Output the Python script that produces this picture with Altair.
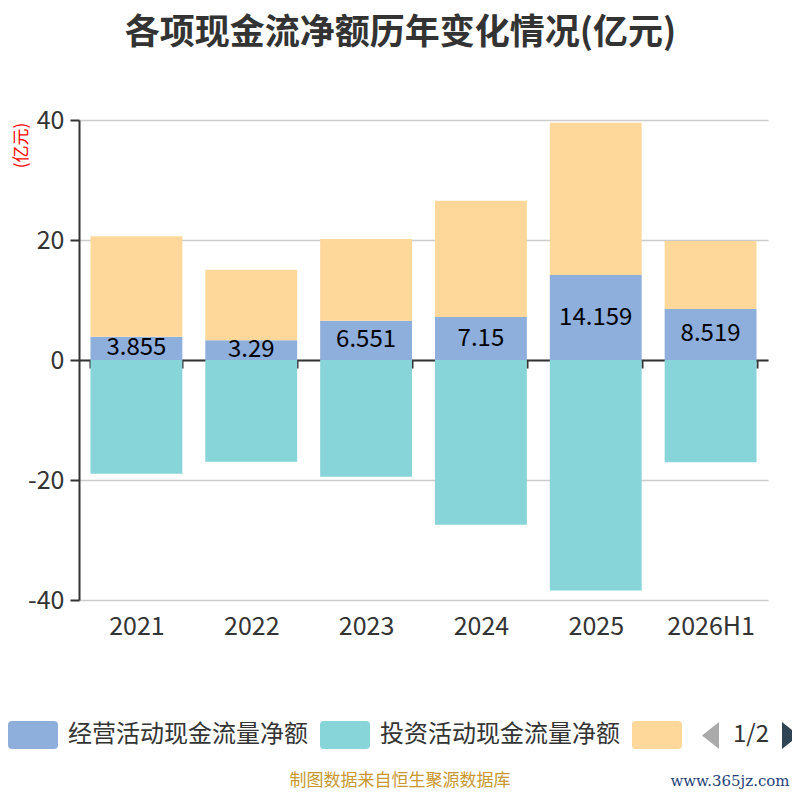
import altair as alt
import pandas as pd

# ---------------- data ----------------
years = ["2021", "2022", "2023", "2024", "2025", "2026H1"]
operating = [3.855, 3.29, 6.551, 7.15, 14.159, 8.519]
investing = [-18.95, -16.94, -19.44, -27.44, -38.4, -17.05]
financing = [16.75, 11.76, 13.6, 19.4, 25.4, 11.3]
series_names = ["经营活动现金流量净额", "投资活动现金流量净额", "筹资活动现金流量净额"]
series_colors = ["#8eaedb", "#88d5d9", "#fed89a"]
y_ticks = [-40, -20, 0, 20, 40]
y_domain = [-40, 40]

title_text = "各项现金流净额历年变化情况(亿元)"
unit_text = "(亿元)"
footer_text = "制图数据来自恒生聚源数据库"
watermark_text = "www.365jz.com"
pager_text = "1/2"

# ---------------- tables ----------------
rows = []
for i, yr in enumerate(years):
    rows.append({"year": yr, "series": series_names[0], "y0": 0, "y1": operating[i]})
    rows.append({"year": yr, "series": series_names[1], "y0": investing[i], "y1": 0})
    rows.append({"year": yr, "series": series_names[2], "y0": operating[i],
                 "y1": operating[i] + financing[i]})
bars_df = pd.DataFrame(rows)
labels_df = pd.DataFrame({"year": years, "label": [str(v) for v in operating],
                          "mid": [v / 2 for v in operating]})

FONT = "Noto Sans CJK SC"
W, H = 689, 480
zero_offset = -H * (0 - y_domain[0]) / (y_domain[1] - y_domain[0])

x_enc = alt.X(
    "year:N", sort=years, title=None,
    scale=alt.Scale(paddingInner=0.2, paddingOuter=0.1),
    axis=alt.Axis(orient="bottom", offset=zero_offset, domainColor="#333333", domainWidth=2,
                  tickBand="extent", tickColor="#333333", tickWidth=2, tickSize=8,
                  labelPadding=246, labelFontSize=25, labelColor="#333333", labelFont=FONT,
                  labelAngle=0, grid=False),
)
y_enc = alt.Y(
    "y1:Q", title=unit_text,
    scale=alt.Scale(domain=y_domain, nice=False, zero=False),
    axis=alt.Axis(values=y_ticks, labelExpr="'' + datum.value",
                  titleColor="red", titleFontSize=17, titleFontWeight="normal",
                  titleFont=FONT, titleAngle=270, titleX=-58, titleY=25, titleAlign="center",
                  titleBaseline="middle", labelFontSize=25, labelColor="#333333", labelFont=FONT,
                  labelPadding=6, tickSize=9, tickColor="#333333", tickWidth=2,
                  domainColor="#333333", domainWidth=2, gridColor="#cccccc", gridWidth=1.5),
)

label_expr = "datum.label == '" + series_names[2] + "' ? '' : datum.label"
rounded = ("M-0.84,-0.56 L0.84,-0.56 Q1,-0.56 1,-0.4 L1,0.4 Q1,0.56 0.84,0.56 "
           "L-0.84,0.56 Q-1,0.56 -1,0.4 L-1,-0.4 Q-1,-0.56 -0.84,-0.56 Z")

bars = alt.Chart(bars_df).mark_bar().encode(
    x=x_enc,
    y=y_enc,
    y2="y0:Q",
    color=alt.Color(
        "series:N", title=None,
        scale=alt.Scale(domain=series_names, range=series_colors),
        legend=alt.Legend(orient="none", legendX=-71, legendY=590, direction="horizontal",
                          symbolType=rounded, symbolSize=2500, symbolStrokeWidth=0,
                          symbolOpacity=1, labelFontSize=24, labelColor="#333333",
                          labelFont=FONT, labelOffset=10, columnPadding=12, labelLimit=400,
                          labelExpr=label_expr),
    ),
)

labels = alt.Chart(labels_df).mark_text(fontSize=24, color="black", font=FONT).encode(
    x=alt.X("year:N", sort=years, title=None),
    y=alt.Y("mid:Q", title=unit_text),
    text="label:N",
)

deco_df = pd.DataFrame({"pager": [pager_text], "footer": [footer_text], "wm": [watermark_text]})
pager_txt = alt.Chart(deco_df).mark_text(fontSize=24, color="#333333", font=FONT).encode(
    text="pager:N", x=alt.value(672), y=alt.value(615))
left_tri = alt.Chart(deco_df).mark_point(
    shape="M0.63,-1 L-0.63,0 L0.63,1 Z", filled=True, size=729, color="#aaaaaa", opacity=1
).encode(x=alt.value(631.5), y=alt.value(615.5))
right_tri = alt.Chart(deco_df).mark_point(
    shape="M-0.63,-1 L0.63,0 L-0.63,1 Z", filled=True, size=729, color="#2f4554", opacity=1
).encode(x=alt.value(711.5), y=alt.value(615.5))
footer = alt.Chart(deco_df).mark_text(fontSize=17, color="#c8982e", font=FONT).encode(
    text="footer:N", x=alt.value(321), y=alt.value(661))
watermark = alt.Chart(deco_df).mark_text(fontSize=15, color="#1f3f7a", font="DejaVu Serif").encode(
    text="wm:N", x=alt.value(651), y=alt.value(661))

chart = alt.layer(bars, labels, pager_txt, left_tri, right_tri, footer, watermark).properties(
    width=W, height=H,
    title=alt.Title(text=title_text, fontSize=35, fontWeight="bold", color="#333333", font=FONT,
                    anchor="middle", frame="group", dx=-23, offset=57),
    autosize=alt.AutoSizeParams(type="none"),
    padding={"left": 71, "top": 112, "right": 24, "bottom": 192},
).configure_view(stroke=None)

chart.save("out.html", embed_options={"renderer": "svg", "actions": False})
